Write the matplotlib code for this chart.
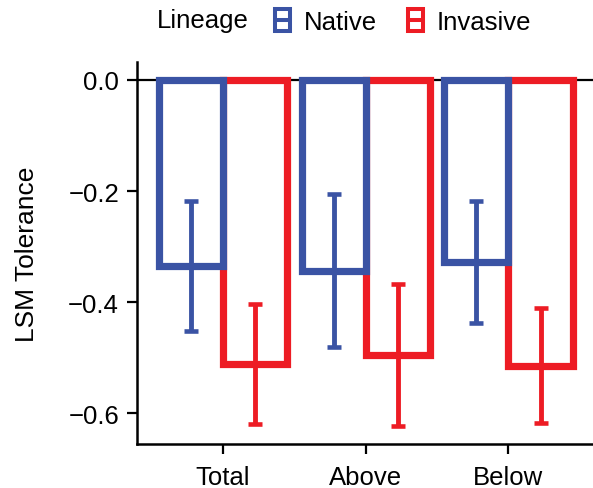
import matplotlib
matplotlib.use("Agg")
import matplotlib.pyplot as plt
import numpy as np
from matplotlib.patches import Patch, Rectangle
from matplotlib.lines import Line2D
from matplotlib.legend_handler import HandlerBase

plt.rcParams['font.family'] = ['Liberation Sans', 'DejaVu Sans']

categories = ["Total", "Above", "Below"]
lineages = ["Native", "Invasive"]
native_mean = [-0.335, -0.343, -0.327]
native_err = [0.117, 0.138, 0.110]
invasive_mean = [-0.511, -0.495, -0.514]
invasive_err = [0.108, 0.128, 0.103]
yticks = [0.0, -0.2, -0.4, -0.6]

blue = "#3A53A4"
red = "#ED1C24"
FS = 18.5


class KeyHandler(HandlerBase):
    def create_artists(self, legend, orig_handle, xdescent, ydescent, width, height,
                       fontsize, trans):
        color = orig_handle.get_edgecolor()
        kw, kh = 10.8, 15.6
        cx = -xdescent + width / 2
        cy = -ydescent + height / 2
        r = Rectangle((cx - kw / 2, cy - kh / 2), kw, kh, facecolor="white",
                      edgecolor=color, lw=2.9, transform=trans, joinstyle="miter",
                      clip_on=False)
        ln = Line2D([cx - kw / 2, cx + kw / 2], [cy, cy], color=color, lw=2.9,
                    transform=trans, solid_capstyle="butt", clip_on=False)
        return [r, ln]


fig = plt.figure(figsize=(5.93, 4.89), dpi=100)
ax = fig.add_axes([137.4 / 593, 1 - 445 / 489, 1 - 137.4 / 593, (445 - 63) / 489])

x = np.arange(1, len(categories) + 1)
w = 0.45
ax.axhline(0, color="black", lw=1.6, zorder=1)
ax.bar(x + w / 2, invasive_mean, width=w, facecolor="white", edgecolor=red,
       linewidth=5.2, zorder=2)
ax.bar(x - w / 2, native_mean, width=w, facecolor="white", edgecolor=blue,
       linewidth=5.2, zorder=3)
ax.errorbar(x - w / 2, native_mean, yerr=native_err, fmt="none", ecolor=blue,
            elinewidth=3.5, capsize=5, capthick=3.3, zorder=4)
ax.errorbar(x + w / 2, invasive_mean, yerr=invasive_err, fmt="none", ecolor=red,
            elinewidth=3.5, capsize=5, capthick=3.3, zorder=4)

ax.set_xlim(0.4, 0.4 + (593 - 137.4) / 142.7)
ax.set_ylim(-0.6553, 0.0324)
ax.set_xticks(x)
ax.set_xticklabels(categories)
ax.set_yticks(yticks)
ax.set_yticklabels([f"{v:.1f}".replace("-", "\u2212") if v != 0 else "0.0" for v in yticks])
for s in ["top", "right"]:
    ax.spines[s].set_visible(False)
for s in ["left", "bottom"]:
    ax.spines[s].set_linewidth(1.8)
ax.tick_params(axis="both", length=7.2, width=1.6, labelsize=FS, colors="black")
ax.tick_params(axis="y", pad=6)
ax.tick_params(axis="x", pad=8)
ax.set_ylabel("LSM Tolerance", fontsize=19, labelpad=21)

handles = [Patch(facecolor="white", edgecolor=blue), Patch(facecolor="white", edgecolor=red)]
fig.text(157 / 593, 1 - 21 / 489, "Lineage", fontsize=FS, va="center", ha="left")
leg = fig.legend(handles, lineages, loc="center left", bbox_to_anchor=(273 / 593, 1 - 21 / 489),
                 ncol=2, frameon=False, fontsize=FS, handlelength=0.76, handleheight=1.3,
                 handletextpad=0.45, columnspacing=1.1, borderpad=0, borderaxespad=0,
                 handler_map={Patch: KeyHandler()})

fig.savefig("out.png", dpi=100)
